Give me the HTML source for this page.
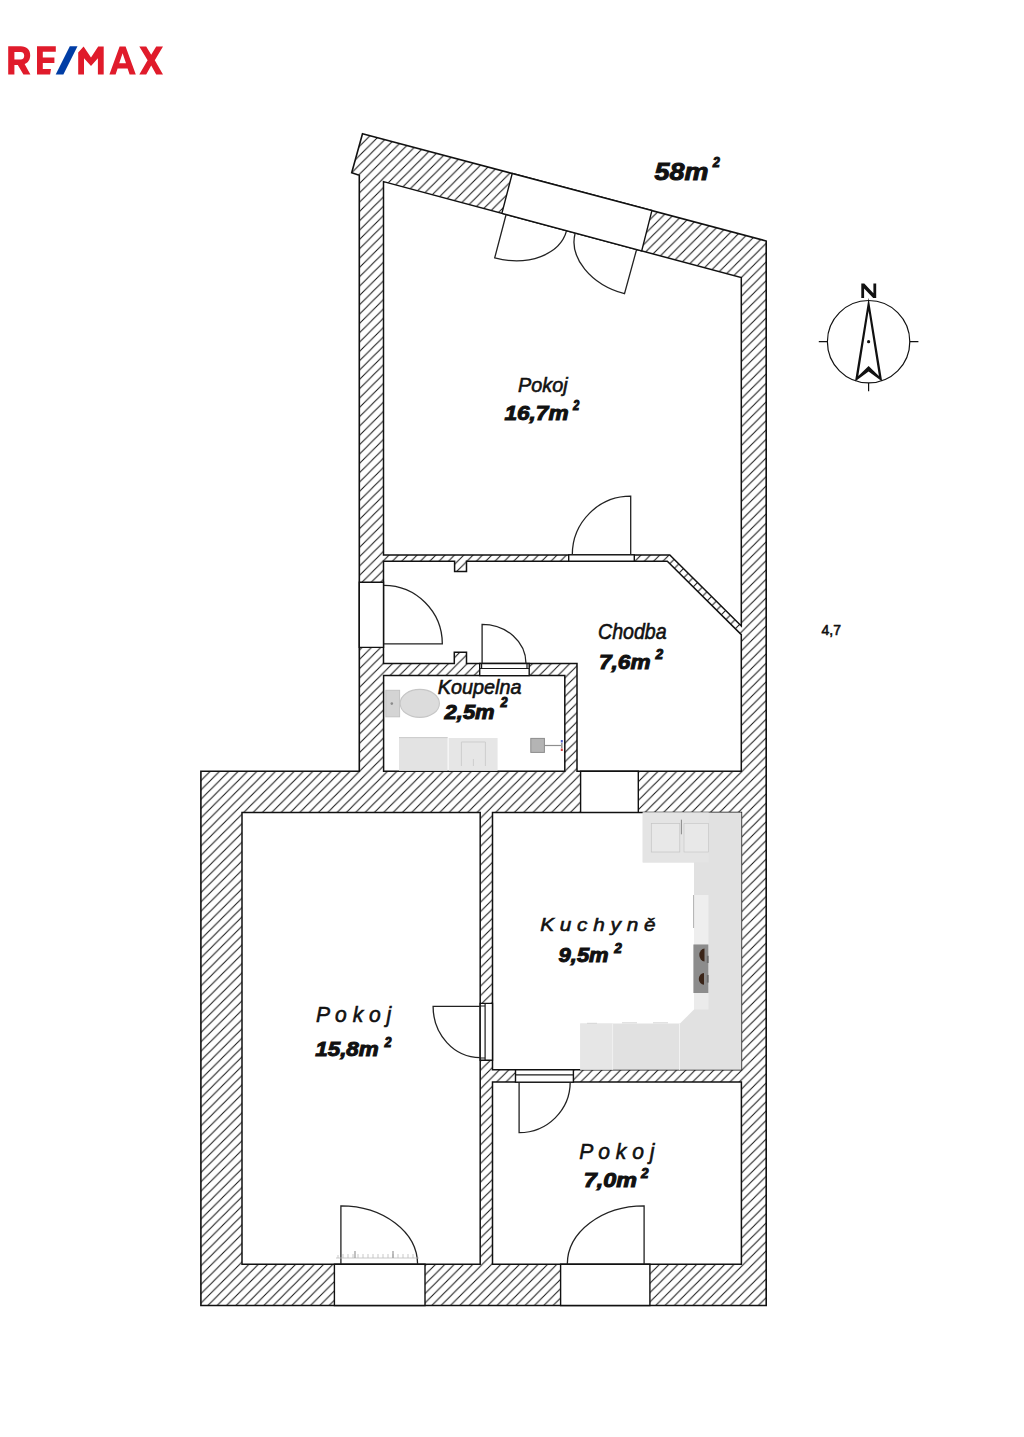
<!DOCTYPE html>
<html><head><meta charset="utf-8"><title>Floor plan</title>
<style>
html,body{margin:0;padding:0;background:#fff;width:1024px;height:1437px;overflow:hidden}
svg{display:block}
text{font-family:"Liberation Sans",sans-serif}
</style></head><body>
<svg width="1024" height="1437" viewBox="0 0 1024 1437">
<defs>
<pattern id="h" patternUnits="userSpaceOnUse" x="1.9" y="0" width="9.33" height="9.33">
<path d="M-2,2 L2,-2 M0,9.33 L9.33,0 M7.33,11.33 L11.33,7.33" stroke="#151515" stroke-width="1.05" fill="none"/>
</pattern>
</defs>
<rect width="1024" height="1437" fill="#fff"/>

<g fill="#e01b2b">
<path fill-rule="evenodd" d="M8.2,46.3 H20.8 C26.8,46.3 30.2,49.8 30.2,55.2 C30.2,59.6 28,62.8 24.6,64.1 L30.4,74.5 H23.4 L17.8,65 H14.4 V74.5 H8.2 Z M14.4,51.9 V59.5 H20.6 C23,59.5 24.2,58.1 24.2,55.7 C24.2,53.3 23,51.9 20.6,51.9 Z"/>
<path d="M37,46.3 H55.8 V51.7 H42.8 V57.6 H54.4 V62.9 H42.8 V69.1 H51 L50.1,74.5 H37 Z"/>
<path d="M78.2,52.4 L83.6,46.4 L91,57.6 L98.2,46.4 H103.7 V74.4 H97.9 V58.2 L91,66 L84,58.2 V74.4 H78.2 Z"/>
<path fill-rule="evenodd" d="M109.4,74.4 L119.6,46.4 H125.6 L135.8,74.4 H129.6 L127.6,68.4 H117.6 L115.6,74.4 Z M119.2,63.3 H126 L122.6,53.2 Z"/>
<path d="M139.3,46.4 H146.2 L151.2,54.8 L156.2,46.4 H163 L154.8,60.2 L163,74.4 H156.2 L151.2,65.6 L146.2,74.4 H139.3 L147.6,60.2 Z"/>
</g>
<path fill="#003da5" d="M69.8,46.3 H77.5 L63.4,74.5 H55.7 Z"/>

<path d="M362.5,133.7 L766.2,241 L766.2,1305.5 L200.9,1305.5 L200.9,771.2 L359.3,771.2 L359.3,175.3 L351.7,172.7 Z" fill="url(#h)" stroke="#111" stroke-width="1.6"/>
<path d="M383.5,181.6 L741.3,277.6 L741.3,626 L669.8,555 L383.5,555 Z" fill="#fff" stroke="#111" stroke-width="1.5"/>
<path d="M383.5,561.3 L454.6,561.3 L454.6,571.4 L466.5,571.4 L466.5,561.3 L667.3,561.3 L741.3,634.6 L741.3,771.2 L577,771.2 L577,663.5 L466.5,663.5 L466.5,652.2 L454.3,652.2 L454.3,663.5 L383.5,663.5 Z" fill="#fff" stroke="#111" stroke-width="1.5"/>
<path d="M383.6,675.6 H564.8 V771.2 H383.6 Z" fill="#fff" stroke="#111" stroke-width="1.5"/>
<path d="M242,812.4 H480.2 V1264.3 H242 Z" fill="#fff" stroke="#111" stroke-width="1.5"/>
<path d="M492.5,812.4 H741.4 V1069.8 H492.5 Z" fill="#fff" stroke="#111" stroke-width="1.5"/>
<path d="M492.5,1082.1 H741.4 V1264.3 H492.5 Z" fill="#fff" stroke="#111" stroke-width="1.5"/>
<path d="M512.2,173.49 L651.9,210.62 L641.7,250.88 L501.9,213.37 Z" fill="#fff" stroke="#111" stroke-width="1.4"/>
<path d="M359.3,582.2 H383.5 V647.4 H359.3 Z" fill="#fff" stroke="#111" stroke-width="1.4"/>
<path d="M580.6,771.2 H638.3 V812.4 H580.6 Z" fill="#fff" stroke="#111" stroke-width="1.4"/>
<path d="M334.4,1264.3 H425 V1305.5 H334.4 Z" fill="#fff" stroke="#111" stroke-width="1.4"/>
<path d="M560.6,1264.3 H649.9 V1305.5 H560.6 Z" fill="#fff" stroke="#111" stroke-width="1.4"/>
<path d="M568.7,554.9 H634.3 V561.3 H568.7 Z" fill="#fff" stroke="#111" stroke-width="1.4"/>
<path d="M479.7,663.5 H529.2 V675.6 H479.7 Z" fill="#fff" stroke="#111" stroke-width="1.4"/>
<path d="M480.2,1003.4 H492.5 V1060.2 H480.2 Z" fill="#fff" stroke="#111" stroke-width="1.4"/>
<path d="M515.5,1069.8 H573.4 V1082.1 H515.5 Z" fill="#fff" stroke="#111" stroke-width="1.4"/>
<g stroke="#1a1a1a" stroke-width="1.2" fill="none">
<path d="M479.7,668.5 H529.2 M481.6,663.5 V668.5 M527,663.5 V668.5"/>
<path d="M485.1,1003.4 V1060.2 M480.2,1006 H485.1 M480.2,1058 H485.1"/>
<path d="M515.5,1074.8 H573.4"/>
</g>
<path d="M506.1,214.5 L494.7,257.9 A62.7,44.9 15.0 0 0 566.6,230.7" fill="none" stroke="#222" stroke-width="1.3"/>
<path d="M636.6,249.5 L624.5,293.7 A63.6,45.8 15.0 0 1 575.2,233.0" fill="none" stroke="#222" stroke-width="1.3"/>
<path d="M630.7,554.8 L630.7,496.2 A58.4,58.6 0 0 0 572.3,554.8" fill="none" stroke="#222" stroke-width="1.3"/>
<path d="M383.8,643.8 L442.3,643.8 A58.5,58.4 0 0 0 383.8,585.4" fill="none" stroke="#222" stroke-width="1.3"/>
<path d="M482.1,663.5 L482.1,624.3 A43.9,39.2 0 0 1 526.0,663.5" fill="none" stroke="#222" stroke-width="1.3"/>
<path d="M480.2,1006.4 L433.1,1006.4 A47.1,51.2 0 0 0 480.2,1057.6" fill="none" stroke="#222" stroke-width="1.3"/>
<path d="M519.1,1082.1 L519.1,1132.7 A51.1,50.6 0 0 0 570.2,1082.1" fill="none" stroke="#222" stroke-width="1.3"/>
<path d="M340.9,1264.3 L340.9,1205.8 A76.7,58.5 0 0 1 417.6,1264.3" fill="none" stroke="#222" stroke-width="1.3"/>
<path d="M644.1,1264.3 L644.1,1205.8 A76.8,58.5 0 0 0 567.3,1264.3" fill="none" stroke="#222" stroke-width="1.3"/>
<g>
<rect x="385.8" y="690.3" width="13.8" height="26.5" fill="#d4d4d4" stroke="#c2c2c2" stroke-width="1"/>
<circle cx="391.8" cy="703.6" r="1.3" fill="#8a8a8a"/>
<ellipse cx="419.8" cy="703.4" rx="19.6" ry="14" fill="#dcdcdc" stroke="#c6c6c6" stroke-width="1.1"/>
<rect x="399" y="737.4" width="48.6" height="33.4" fill="#e3e3e3"/>
<path d="M399,737.6 H447.6" stroke="#cacaca" stroke-width="1"/>
<rect x="448.6" y="738" width="49" height="32.8" fill="#e6e6e6"/>
<path d="M461.4,766 V742 H485.4 V766 M473.4,766 V759" fill="none" stroke="#cdcdcd" stroke-width="1"/>
<rect x="530.8" y="738.4" width="13.6" height="14" fill="#b4b4b4" stroke="#8c8c8c" stroke-width="1"/>
<path d="M544.4,745.5 H561.5" stroke="#8e8e8e" stroke-width="1.2"/>
<rect x="560.8" y="740" width="2" height="2.5" fill="#5060c8"/>
<rect x="560.8" y="748.5" width="2" height="2.5" fill="#d04040"/>
<rect x="561" y="743" width="1.6" height="5" fill="#999"/>
</g>
<g>
<path d="M642.7,812.4 H741.4 V1069.8 H580.2 V1023.6 H680 L694,1009.5 V862.5 H642.7 Z" fill="#e1e1e1"/>
<rect x="642.7" y="812.4" width="66" height="50" fill="#e4e4e4"/>
<rect x="651.3" y="823.5" width="28.5" height="28.5" fill="#e8e8e8" stroke="#c4c4c4" stroke-width="0.7"/>
<rect x="684" y="823.5" width="24.5" height="28.5" fill="#e8e8e8" stroke="#c8c8c8" stroke-width="0.7"/>
<path d="M681.4,819.7 V834.3" stroke="#8a8a8a" stroke-width="1"/>
<rect x="694" y="895" width="14.5" height="49.5" fill="#eeeeee"/>
<path d="M693.6,895 V928" stroke="#9a9a9a" stroke-width="0.8"/>
<rect x="694" y="993" width="14.5" height="16.5" fill="#ebebeb"/>
<rect x="693.4" y="944.5" width="14.9" height="48.5" fill="#8c8c8c"/>
<rect x="706.8" y="955.8" width="1.8" height="7.2" fill="#6a6a6a"/>
<rect x="706.8" y="975" width="1.8" height="7.6" fill="#6a6a6a"/>
<path d="M704.5,948.6 A5.2,6.4 0 0 0 704.5,961.4 Z" fill="#3a2418"/>
<path d="M704,973 A5.2,5.9 0 0 0 704,984.8 Z" fill="#3a2418"/>
<rect x="580.2" y="1023.6" width="31.8" height="46" fill="#e6e6e6"/>
<path d="M612.6,1023.6 V1069.8 M679.5,1023.6 V1069.8" stroke="#f2f2f2" stroke-width="1"/>
<path d="M587,1023.3 H597 M622,1022.8 H637 M653,1022.8 H668" stroke="#d6d6d6" stroke-width="1"/>
</g>
<text x="518.0" y="391.5" font-size="20.35" font-style="italic" font-weight="normal" fill="#111" stroke="#111" stroke-width="0.6" textLength="49.61" lengthAdjust="spacingAndGlyphs">Pokoj</text>
<text x="504.4" y="420.1" font-size="20.34" font-style="italic" font-weight="bold" fill="#111" stroke="#111" stroke-width="1.0" textLength="64.21" lengthAdjust="spacingAndGlyphs">16,7m</text>
<text x="573.0" y="409.5" font-size="14.5" font-style="italic" font-weight="bold" fill="#111" stroke="#111" stroke-width="1.0" textLength="6.32" lengthAdjust="spacingAndGlyphs">2</text>
<text x="598.0" y="638.5" font-size="21.22" font-style="italic" font-weight="normal" fill="#111" stroke="#111" stroke-width="0.6" textLength="68.63" lengthAdjust="spacingAndGlyphs">Chodba</text>
<text x="599.0" y="668.5" font-size="21.05" font-style="italic" font-weight="bold" fill="#111" stroke="#111" stroke-width="1.0" textLength="51.54" lengthAdjust="spacingAndGlyphs">7,6m</text>
<text x="655.6" y="659.3" font-size="14.5" font-style="italic" font-weight="bold" fill="#111" stroke="#111" stroke-width="1.0" textLength="7.62" lengthAdjust="spacingAndGlyphs">2</text>
<text x="437.8" y="694.3" font-size="20.23" font-style="italic" font-weight="normal" fill="#111" stroke="#111" stroke-width="0.6" textLength="83.61" lengthAdjust="spacingAndGlyphs">Koupelna</text>
<text x="444.6" y="719.0" font-size="20.06" font-style="italic" font-weight="bold" fill="#111" stroke="#111" stroke-width="1.0" textLength="50.03" lengthAdjust="spacingAndGlyphs">2,5m</text>
<text x="500.4" y="707.1" font-size="14" font-style="italic" font-weight="bold" fill="#111" stroke="#111" stroke-width="1.0" textLength="7.1" lengthAdjust="spacingAndGlyphs">2</text>
<text x="540.2" y="931.0" font-size="19.0" font-style="italic" font-weight="normal" fill="#111" stroke="#111" stroke-width="0.6" textLength="115.4" lengthAdjust="spacingAndGlyphs">K u c h y n ě</text>
<text x="558.6" y="962.0" font-size="19.38" font-style="italic" font-weight="bold" fill="#111" stroke="#111" stroke-width="1.0" textLength="50.04" lengthAdjust="spacingAndGlyphs">9,5m</text>
<text x="614.2" y="952.5" font-size="14" font-style="italic" font-weight="bold" fill="#111" stroke="#111" stroke-width="1.0" textLength="7.57" lengthAdjust="spacingAndGlyphs">2</text>
<text x="316.0" y="1021.5" font-size="21.25" font-style="italic" font-weight="normal" fill="#111" stroke="#111" stroke-width="0.6" textLength="75.22" lengthAdjust="spacingAndGlyphs">P o k o j</text>
<text x="315.2" y="1055.7" font-size="20.34" font-style="italic" font-weight="bold" fill="#111" stroke="#111" stroke-width="1.0" textLength="63.61" lengthAdjust="spacingAndGlyphs">15,8m</text>
<text x="384.4" y="1046.9" font-size="14.5" font-style="italic" font-weight="bold" fill="#111" stroke="#111" stroke-width="1.0" textLength="7.01" lengthAdjust="spacingAndGlyphs">2</text>
<text x="579.2" y="1159.3" font-size="21.36" font-style="italic" font-weight="normal" fill="#111" stroke="#111" stroke-width="0.6" textLength="75.21" lengthAdjust="spacingAndGlyphs">P o k o j</text>
<text x="583.8" y="1187.0" font-size="19.63" font-style="italic" font-weight="bold" fill="#111" stroke="#111" stroke-width="1.0" textLength="53.08" lengthAdjust="spacingAndGlyphs">7,0m</text>
<text x="641.0" y="1178.2" font-size="14" font-style="italic" font-weight="bold" fill="#111" stroke="#111" stroke-width="1.0" textLength="7.53" lengthAdjust="spacingAndGlyphs">2</text>
<text x="654.6" y="179.7" font-size="24.54" font-style="italic" font-weight="bold" fill="#111" stroke="#111" stroke-width="1.0" textLength="53.81" lengthAdjust="spacingAndGlyphs">58m</text>
<text x="712.8" y="167.0" font-size="15" font-style="italic" font-weight="bold" fill="#111" stroke="#111" stroke-width="1.0" textLength="7.1" lengthAdjust="spacingAndGlyphs">2</text>
<text x="821.6" y="635.0" font-size="14.5" font-style="normal" font-weight="normal" fill="#111" stroke="#111" stroke-width="0.6" textLength="19.46" lengthAdjust="spacingAndGlyphs">4,7</text>
<g fill="none" stroke="#111">
<circle cx="868.6" cy="341.7" r="41.2" stroke-width="1.2"/>
<path d="M818.8,341.7 H827.3 M909.8,341.7 H918.4 M868.6,383 V391.3" stroke-width="1.2"/>
</g>
<path fill="#111" fill-rule="evenodd" d="M868.6,297.8 L855,381.5 L868.6,371.5 L882.2,381.5 Z M868.6,311 L858.3,376 L868.6,366 L878.9,376 Z"/>
<circle cx="868.6" cy="341.7" r="1.6" fill="#111"/>
<path fill="#111" d="M861.3,298.1 V283.5 H864.3 L873.4,293.2 V283.5 H876.2 V298.1 H873.2 L864.1,288.4 V298.1 Z"/>
<g stroke="#bbb" stroke-width="0.8" fill="none">
<path d="M336,1258 H419"/>
<path d="M338,1255 V1258 M343,1254 V1258 M348,1254 V1258 M353,1254 V1258 M358,1254 V1258 M363,1254 V1258 M368,1254 V1258 M373,1254 V1258 M378,1254 V1258 M383,1254 V1258 M388,1254 V1258 M393,1254 V1258 M398,1254 V1258 M403,1254 V1258 M408,1254 V1258 M413,1254 V1258"/>
<path d="M355,1251 V1258 M393,1251 V1258" stroke="#999" stroke-width="1.2"/>
</g>

</svg></body></html>
